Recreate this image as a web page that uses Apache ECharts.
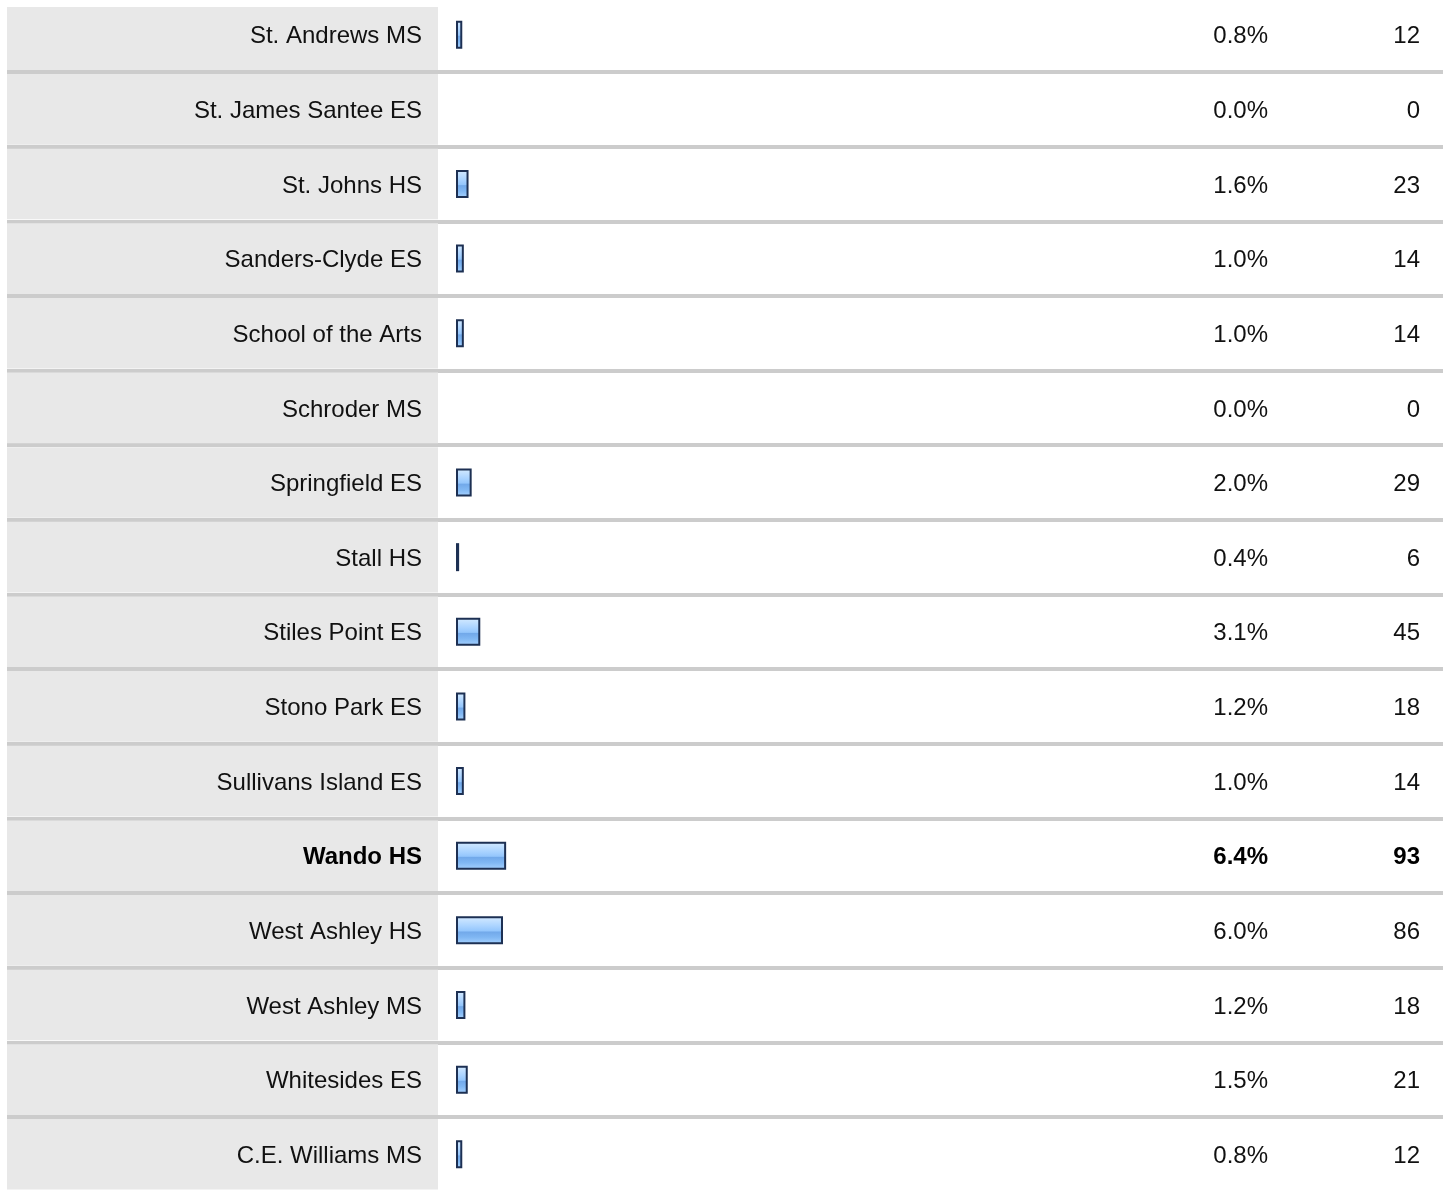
<!DOCTYPE html>
<html>
<head>
<meta charset="utf-8">
<script src="https://cdn.jsdelivr.net/npm/echarts@6/dist/echarts.min.js"></script>
<style>
  html, body { margin: 0; padding: 0; background: #fff; }
  #chart { width: 1443px; height: 1190px; }
</style>
</head>
<body>
<div id="chart"></div>
<script>
var schools = ['St. Andrews MS', 'St. James Santee ES', 'St. Johns HS', 'Sanders-Clyde ES',
  'School of the Arts', 'Schroder MS', 'Springfield ES', 'Stall HS', 'Stiles Point ES',
  'Stono Park ES', 'Sullivans Island ES', 'Wando HS', 'West Ashley HS', 'West Ashley MS',
  'Whitesides ES', 'C.E. Williams MS'];
var percents = [0.8, 0.0, 1.6, 1.0, 1.0, 0.0, 2.0, 0.4, 3.1, 1.2, 1.0, 6.4, 6.0, 1.2, 1.5, 0.8];
var counts = [12, 0, 23, 14, 14, 0, 29, 6, 45, 18, 14, 93, 86, 18, 21, 12];
var highlight = 'Wando HS';

var ROW = 74.64;
var TOP = 72 - ROW;
var font = 'Liberation Sans';
var FS = 24;

function txt(i, s) {
  return schools[i] === highlight ? '{b|' + s + '}' : s;
}
var rich = { b: { fontWeight: 'bold', fontSize: FS, fontFamily: font, color: '#000' } };

var hidden = { show: false };
function catAxis(grid, extra) {
  var a = {
    type: 'category', gridIndex: grid, data: schools, inverse: true, z: 10,
    axisLine: hidden, axisTick: hidden, axisLabel: hidden, splitLine: hidden
  };
  for (var k in extra) a[k] = extra[k];
  return a;
}
function labelStyle(margin, fmt) {
  return {
    show: true, interval: 0, align: 'right', margin: margin,
    fontFamily: font, fontSize: FS, color: '#111', padding: [4, 0, 0, 0],
    formatter: fmt, rich: rich
  };
}

var chart = echarts.init(document.getElementById('chart'));
chart.setOption({
  animation: false,
  grid: [
    { left: 7, right: 0, top: TOP, height: ROW * schools.length, outerBoundsMode: 'none' },
    { left: 7, width: 431, top: TOP, height: ROW * schools.length, outerBoundsMode: 'none' },
    { left: 456, right: 0, top: TOP, height: ROW * schools.length, outerBoundsMode: 'none' }
  ],
  xAxis: [
    { type: 'value', gridIndex: 0, min: 0, max: 1, show: false },
    { type: 'value', gridIndex: 1, min: 0, max: 1, show: false },
    { type: 'value', gridIndex: 2, min: 0, max: 126, show: false }
  ],
  yAxis: [
    catAxis(0, { z: 0, splitLine: { show: true, interval: 0, lineStyle: { color: '#cccccc', width: 4 } } }),
    catAxis(0, { position: 'right', axisLabel: labelStyle(-175, function (v, i) { return txt(i, percents[i].toFixed(1) + '%'); }) }),
    catAxis(0, { position: 'right', axisLabel: labelStyle(-23, function (v, i) { return txt(i, String(counts[i])); }) }),
    catAxis(1, { position: 'right', axisLabel: labelStyle(-16, function (v, i) { return txt(i, v); }) }),
    catAxis(2, {})
  ],
  series: [
    {
      type: 'bar', xAxisIndex: 1, yAxisIndex: 3, silent: true, z: 1,
      barWidth: ROW - 4, itemStyle: { color: '#e8e8e8' },
      data: schools.map(function () { return 1; })
    },
    {
      type: 'bar', xAxisIndex: 2, yAxisIndex: 4, silent: true, z: 3,
      barWidth: 28,
      itemStyle: {
        borderColor: '#1d3053', borderWidth: 2,
        color: {
          type: 'linear', x: 0, y: 0, x2: 0, y2: 1,
          colorStops: [
            { offset: 0, color: '#d6ebff' },
            { offset: 0.35, color: '#aad3ff' },
            { offset: 0.52, color: '#94c6fc' },
            { offset: 0.56, color: '#72a9ea' },
            { offset: 0.75, color: '#80b7f3' },
            { offset: 1, color: '#a8d3ff' }
          ]
        }
      },
      data: percents.map(function (p) {
        return p === 0 ? { value: p, itemStyle: { opacity: 0 } } : p;
      })
    }
  ],
  graphic: [
    { type: 'rect', left: 0, top: 0, shape: { width: 1443, height: 7 }, style: { fill: '#fff' }, z: 100 }
  ]
});
</script>
</body>
</html>
